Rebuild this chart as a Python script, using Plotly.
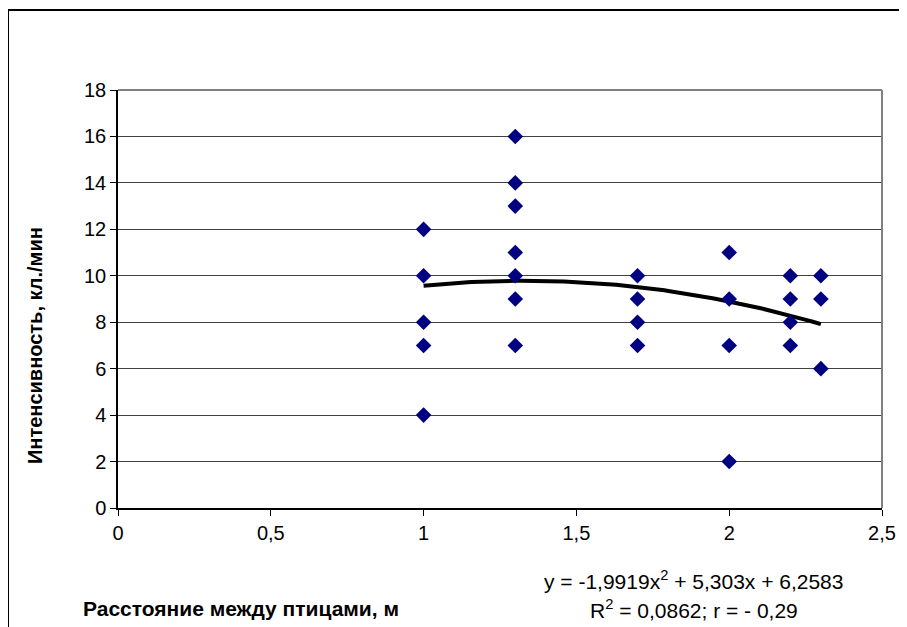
import plotly.graph_objects as go
import numpy as np

# Data
x_vals = [1, 1, 1, 1, 1,
          1.3, 1.3, 1.3, 1.3, 1.3, 1.3, 1.3,
          1.7, 1.7, 1.7, 1.7,
          2, 2, 2, 2,
          2.2, 2.2, 2.2, 2.2,
          2.3, 2.3, 2.3]
y_vals = [12, 10, 8, 7, 4,
          16, 14, 13, 11, 10, 9, 7,
          10, 9, 8, 7,
          11, 9, 7, 2,
          10, 9, 8, 7,
          10, 9, 6]
# Polynomial trendline coefficients (as printed on the chart): a*x^2 + b*x + c
trend_coef = [-1.9919, 5.303, 6.2583]
trend_range = [1.0, 2.3]

x_ticks = [0, 0.5, 1, 1.5, 2, 2.5]
x_tick_labels = ["0", "0,5", "1", "1,5", "2", "2,5"]
y_ticks = [0, 2, 4, 6, 8, 10, 12, 14, 16, 18]

eq_text = "y = -1,9919x<sup>2</sup> + 5,303x + 6,2583"
r_text = "R<sup>2</sup> = 0,0862; r = - 0,29"
x_title = "Расстояние между птицами, м"
y_title = "Интенсивность, кл./мин"

# page offset (body margin) compensation
OFF = 8
W, H = 907 - OFF, 627 - OFF
L, R, T, B = 118 - OFF, 882 - OFF, 90 - OFF, 508 - OFF

tx = np.linspace(trend_range[0], trend_range[1], 100)
ty = np.polyval(trend_coef, tx)

fig = go.Figure()
fig.add_trace(go.Scatter(x=tx, y=ty, mode="lines",
                         line=dict(color="black", width=4),
                         showlegend=False, hoverinfo="skip"))
fig.add_trace(go.Scatter(x=x_vals, y=y_vals, mode="markers",
                         marker=dict(symbol="diamond", size=12, color="#000080",
                                     line=dict(width=0)),
                         showlegend=False, hoverinfo="x+y"))

font = "Liberation Sans, Arial, sans-serif"


def px_x(p):
    return (p - OFF - L) / (R - L)


def px_y(p):
    return (B - (p - OFF)) / (B - T)


fig.update_layout(
    width=W, height=H,
    margin=dict(l=L, r=W - R, t=T, b=H - B, pad=0),
    paper_bgcolor="white", plot_bgcolor="white",
    font=dict(family=font, size=20, color="black"),
    xaxis=dict(range=[0, 2.5], tickvals=x_ticks, ticktext=x_tick_labels,
               showgrid=False, zeroline=False, showline=True, linecolor="black",
               linewidth=1.5, ticks="outside", ticklen=6, tickcolor="black",
               tickfont=dict(size=20, family=font)),
    yaxis=dict(range=[0, 18], tickvals=y_ticks, showgrid=True,
               gridcolor="#404040", gridwidth=1, zeroline=False, showline=True,
               linecolor="black", linewidth=1.5, ticks="outside", ticklen=6,
               tickcolor="black", tickfont=dict(size=20, family=font)),
    shapes=[
        # plot area border (top/right gray)
        dict(type="line", xref="paper", yref="paper", x0=0, x1=1, y0=1, y1=1,
             line=dict(color="#808080", width=2)),
        dict(type="line", xref="paper", yref="paper", x0=1, x1=1, y0=0, y1=1,
             line=dict(color="#808080", width=2)),
        # outer chart border (top and left)
        dict(type="line", xref="paper", yref="paper", x0=px_x(8), x1=px_x(912),
             y0=px_y(10), y1=px_y(10), line=dict(color="black", width=2)),
        dict(type="line", xref="paper", yref="paper", x0=px_x(8), x1=px_x(8),
             y0=px_y(10), y1=px_y(640), line=dict(color="black", width=2)),
    ],
    annotations=[
        dict(text=eq_text, xref="paper", yref="paper", x=px_x(693), y=px_y(580),
             showarrow=False, font=dict(size=21, family=font),
             xanchor="center", yanchor="middle"),
        dict(text=r_text, xref="paper", yref="paper", x=px_x(694), y=px_y(609),
             showarrow=False, font=dict(size=21, family=font),
             xanchor="center", yanchor="middle"),
        dict(text="<b>" + x_title + "</b>", xref="paper", yref="paper",
             x=px_x(81), y=px_y(608), showarrow=False,
             font=dict(size=21, family=font), xanchor="left", yanchor="middle"),
        dict(text="<b>" + y_title + "</b>", xref="paper", yref="paper",
             x=px_x(35), y=px_y(346), showarrow=False, textangle=-90,
             font=dict(size=20, family=font), xanchor="center", yanchor="middle"),
    ],
)

fig.write_html("out.html")
